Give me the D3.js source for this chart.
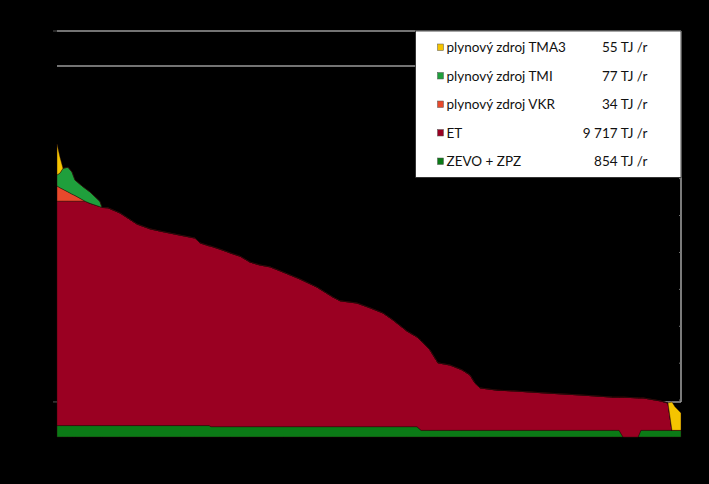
<!DOCTYPE html>
<html><head><meta charset="utf-8">
<script src="https://cdn.jsdelivr.net/npm/d3@7"></script>
<style>html,body{margin:0;padding:0;background:#000;}svg{display:block;}</style>
</head><body>
<svg id="chart" width="709" height="484"></svg>
<script>
// hours of the year (duration curve, sorted)
const hours = [0,42,84,154,211,253,365,393,463,604,632,716,884,1123,1306,1446,1727,1937,2007,2134,2162,2288,2429,2569,2709,2850,2990,3173,3411,3650,3874,3973,4211,4394,4576,4717,4913,5054,5110,5236,5306,5348,5517,5685,5798,5868,5938,6177,6401,6879,7342,7805,7890,7946,8157,8198,8226,8465,8577,8633,8675,8760];
// heat output, MW
const zevo = [31,31,31,31,31,31,31,31,31,31,31,31,31,31,31,31,31,31,31,31,28,28,28,28,28,28,28,28,28,28,28,28,28,28,28,28,28,28,18,18,18,18,18,18,18,18,18,18,18,18,18,18,18,0,0,18,18,18,18,18,18,18];
const et   = [608,608,608,608,608,608,608,608,602,593,591,590,576,546,533,527,516,508,495,487,489,481,471,462,446,438,433,419,400,378,351,341,335,322,308,289,259,243,243,218,196,183,177,164,150,128,115,109,107,101,96,90,90,108,106,88,88,80,74,0,0,0];
const vkr  = [41,36,32,25,19,15,3,0,0,0,0,0,0,0,0,0,0,0,0,0,0,0,0,0,0,0,0,0,0,0,0,0,0,0,0,0,0,0,0,0,0,0,0,0,0,0,0,0,0,0,0,0,0,0,0,0,0,0,0,0,0,0];
const tmi  = [30,40,57,67,60,42,36,35,31,14,0,0,0,0,0,0,0,0,0,0,0,0,0,0,0,0,0,0,0,0,0,0,0,0,0,0,0,0,0,0,0,0,0,0,0,0,0,0,0,0,0,0,0,0,0,0,0,0,0,0,0,0];
const tma3 = [84,43,0,0,0,0,0,0,0,0,0,0,0,0,0,0,0,0,0,0,0,0,0,0,0,0,0,0,0,0,0,0,0,0,0,0,0,0,0,0,0,0,0,0,0,0,0,0,0,0,0,0,0,0,0,0,0,0,0,77,64,47];

const seriesKeys = ["zevo","et","vkr","tmi","tma3"];
const seriesColors = ["#0b7a16","#9a0022","#e8492c","#1f9f3c","#f5c400"];
const legendNames = ["plynový zdroj TMA3","plynový zdroj TMI","plynový zdroj VKR","ET","ZEVO + ZPZ"];
const legendValues = ["55 TJ /r","77 TJ /r","34 TJ /r","9 717 TJ /r","854 TJ /r"];
const legendKeys = ["tma3","tmi","vkr","et","zevo"];
const grayLines = [1100, 1005, 95];

const rows = hours.map((h,i)=>({h, zevo:zevo[i], et:et[i], vkr:vkr[i], tmi:tmi[i], tma3:tma3[i]}));

const svg = d3.select("#chart");
const x = d3.scaleLinear().domain([0,8760]).range([57,681]);
const y = d3.scaleLinear().domain([0,1100]).range([437,31]);

// gray reference lines
svg.append("g").selectAll("line").data(grayLines).join("line")
  .attr("x1", x(0)).attr("x2", x(8760))
  .attr("y1", d=>y(d)).attr("y2", d=>y(d))
  .attr("stroke","#9a9a9a").attr("stroke-width",1.6);
svg.append("line")
  .attr("x1", x(8760)).attr("x2", x(8760))
  .attr("y1", y(1100)).attr("y2", y(95))
  .attr("stroke","#9a9a9a").attr("stroke-width",1.6);
// right-side ticks
svg.append("g").selectAll("line").data(d3.range(100,1101,100)).join("line")
  .attr("x1", x(8760)-2).attr("x2", x(8760))
  .attr("y1", d=>y(d)).attr("y2", d=>y(d))
  .attr("stroke","#777").attr("stroke-width",1);

const stack = d3.stack().keys(seriesKeys);
const layers = stack(rows);
const area = d3.area()
  .x(d=>x(d.data.h))
  .y0(d=>y(d[0]))
  .y1(d=>y(d[1]));

svg.append("g").selectAll("path").data(layers).join("path")
  .attr("d", area)
  .attr("fill", (d,i)=>seriesColors[i])
  .attr("stroke", "rgba(40,10,10,0.7)")
  .attr("stroke-width", 0.6);

// left axis ticks (faint)
svg.append("g").selectAll("line").data([1100, 95]).join("line")
  .attr("x1", x(0)-4).attr("x2", x(0))
  .attr("y1", d=>y(d)).attr("y2", d=>y(d))
  .attr("stroke","#555").attr("stroke-width",1);

// legend
const lg = svg.append("g");
lg.append("rect").attr("x",415.5).attr("y",31).attr("width",265.5).attr("height",146.5)
  .attr("fill","#fff").attr("stroke","#222").attr("stroke-width",0.8);
const rowY = [47.5, 76, 104.5, 133, 161.5];
legendNames.forEach((name,i)=>{
  const col = seriesColors[seriesKeys.indexOf(legendKeys[i])];
  lg.append("rect").attr("x",437.5).attr("y",rowY[i]-3.5).attr("width",6).attr("height",6.5)
    .attr("fill",col).attr("stroke","#555").attr("stroke-width",0.5);
  lg.append("text").attr("x",446.5).attr("y",rowY[i]+4.5)
    .attr("font-family","Lato, 'Open Sans', sans-serif").attr("font-size",13.5)
    .attr("fill","#111").text(name);
  lg.append("text").attr("x",647.5).attr("y",rowY[i]+4.5).attr("text-anchor","end")
    .attr("font-family","Lato, 'Open Sans', sans-serif").attr("font-size",13.5)
    .attr("fill","#111").text(legendValues[i]);
});
</script>
</body></html>
